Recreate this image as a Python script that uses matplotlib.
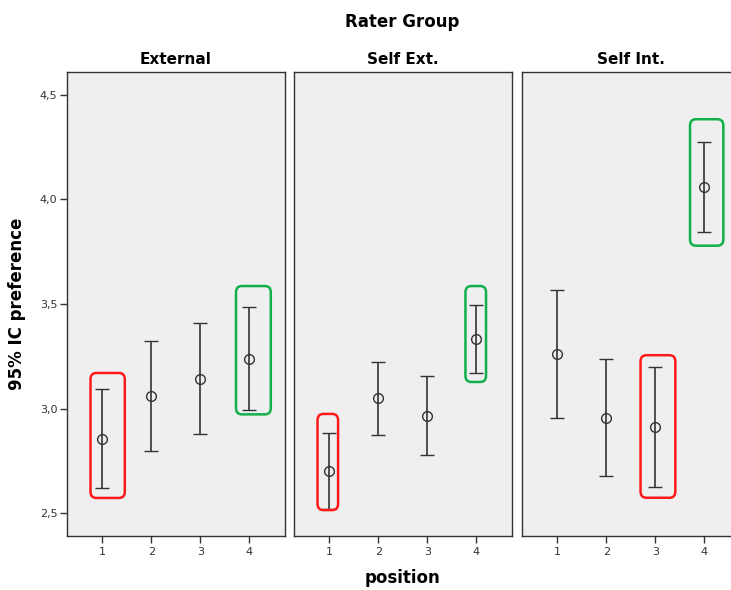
import matplotlib.pyplot as plt
from matplotlib.patches import FancyBboxPatch
from matplotlib.ticker import FixedLocator, FuncFormatter

groups = ["External", "Self Ext.", "Self Int."]
positions = [1, 2, 3, 4]

# mean and 95% CI bounds per rater group, positions 1..4
means = [
    [2.856, 3.060, 3.143, 3.238],
    [2.702, 3.049, 2.966, 3.334],
    [3.261, 2.956, 2.910, 4.058],
]
ci_low = [
    [2.621, 2.797, 2.879, 2.991],
    [2.521, 2.875, 2.778, 3.171],
    [2.953, 2.676, 2.623, 3.843],
]
ci_high = [
    [3.093, 3.323, 3.408, 3.484],
    [2.881, 3.224, 3.154, 3.497],
    [3.567, 3.238, 3.197, 4.275],
]

# highlight frames: (group index, x0, x1, y0, y1, colour)
highlights = [
    (0, 0.76, 1.46, 2.572, 3.170, "#ff1a1a"),
    (0, 3.73, 4.44, 2.972, 3.586, "#12b04a"),
    (1, 0.76, 1.18, 2.514, 2.974, "#ff1a1a"),
    (1, 3.78, 4.20, 3.127, 3.586, "#12b04a"),
    (2, 3.71, 4.39, 3.779, 4.384, "#12b04a"),
    (2, 2.70, 3.41, 2.573, 3.255, "#ff1a1a"),
]

fig = plt.figure(figsize=(7.31, 5.90), dpi=100)
fig.patch.set_facecolor("white")

left_px = [67, 294, 522]
W, H = 731, 590
axes = []
for i, g in enumerate(groups):
    ax = fig.add_axes([left_px[i] / W, (H - 536) / H, 218 / W, (536 - 72) / H])
    ax.set_facecolor("#efefef")
    for s in ax.spines.values():
        s.set_color("#333333")
        s.set_linewidth(1.0)
    ax.set_xlim(0.28, 4.73)
    ax.set_ylim(2.39, 4.61)

    yerr = [[m - lo for m, lo in zip(means[i], ci_low[i])],
            [hi - m for m, hi in zip(means[i], ci_high[i])]]
    ax.errorbar(positions, means[i], yerr=yerr, fmt="o", mfc="none",
                mec="#333333", ms=7, mew=1.0, ecolor="#333333",
                elinewidth=1.2, capsize=5, capthick=1.2, zorder=3)

    ax.xaxis.set_major_locator(FixedLocator(positions))
    ax.tick_params(axis="x", direction="out", length=5, width=1,
                   colors="#333333", labelsize=8, pad=3)
    if i == 0:
        ax.yaxis.set_major_locator(FixedLocator([2.5, 3.0, 3.5, 4.0, 4.5]))
        ax.yaxis.set_major_formatter(
            FuncFormatter(lambda v, p: f"{v:.1f}".replace(".", ",")))
        ax.tick_params(axis="y", direction="out", length=5, width=1,
                       colors="#333333", labelsize=8, pad=2)
        ax.set_ylabel("95% IC preference", fontsize=12, fontweight="bold",
                      labelpad=10)
    else:
        ax.set_yticks([])
    ax.set_title(g, fontsize=11, fontweight="bold", pad=6)
    axes.append(ax)

for gi, x0, x1, y0, y1, col in highlights:
    box = FancyBboxPatch((x0, y0), x1 - x0, y1 - y0,
                         boxstyle="round,pad=0,rounding_size=0.12",
                         fill=False, edgecolor=col, linewidth=1.8,
                         mutation_aspect=0.25, zorder=4)
    axes[gi].add_patch(box)

fig.text(402 / W, 1 - 22 / H, "Rater Group", ha="center", va="center",
         fontsize=12, fontweight="bold")
fig.text(402 / W, 1 - 578 / H, "position", ha="center", va="center",
         fontsize=12, fontweight="bold")

fig.savefig("out.png", dpi=100)
